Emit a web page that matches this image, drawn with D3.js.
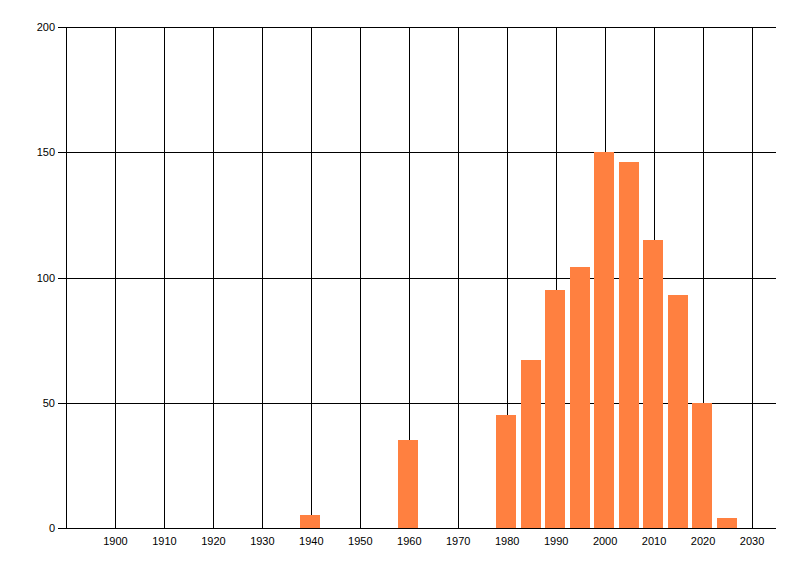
<!DOCTYPE html>
<html>
<head>
<meta charset="utf-8">
<script src="https://cdn.jsdelivr.net/npm/d3@7"></script>
<style>
  body { margin: 0; background: #fff; }
  text { font-family: "Liberation Sans", Arial, sans-serif; font-size: 11px; fill: #000; }
</style>
</head>
<body>
<div id="chart"></div>
<script>
const years = [1940, 1960, 1980, 1985, 1990, 1995, 2000, 2005, 2010, 2015, 2020, 2025];
const counts = [5, 35, 45, 67, 95, 104, 150, 146, 115, 93, 50, 4];
const xTicks = [1900, 1910, 1920, 1930, 1940, 1950, 1960, 1970, 1980, 1990, 2000, 2010, 2020, 2030];
const yTicks = [0, 50, 100, 150, 200];

const margin = {top: 27, right: 24, bottom: 48, left: 66},
      width = 800 - margin.left - margin.right,
      height = 576 - margin.top - margin.bottom;

const svg = d3.select("#chart")
              .append("svg")
              .attr("width", 800)
              .attr("height", 576)
              .append("g")
              .attr("transform", `translate(${margin.left},${margin.top})`);

const x = d3.scaleLinear().domain([1890, 2035]).range([0, width]);
const y = d3.scaleLinear().domain([0, 200]).range([height, 0]);

const data = years.map((yr, i) => ({year: yr, count: counts[i]}));
const barW = Math.round(x(1894) - x(1890));
const px = v => Math.round(v) + 0.5;

// grid
svg.selectAll(".vgrid")
   .data(xTicks)
   .enter()
   .append("line")
   .attr("x1", d => px(x(d)))
   .attr("x2", d => px(x(d)))
   .attr("y1", 0)
   .attr("y2", height)
   .attr("stroke", "#000");

svg.selectAll(".hgrid")
   .data(yTicks.filter(d => d > 0))
   .enter()
   .append("line")
   .attr("x1", 0)
   .attr("x2", width)
   .attr("y1", d => px(y(d)))
   .attr("y2", d => px(y(d)))
   .attr("stroke", "#000");

// bars
svg.selectAll(".bar")
   .data(data)
   .enter()
   .append("rect")
   .attr("class", "bar")
   .attr("x", d => Math.floor(x(d.year) - barW / 2))
   .attr("y", d => Math.round(y(d.count)))
   .attr("width", barW)
   .attr("height", d => height - Math.round(y(d.count)))
   .attr("fill", "#ff8040")
   .attr("shape-rendering", "crispEdges");

// y axis
const yAxis = svg.append("g")
   .call(d3.axisLeft(y).tickValues(yTicks).tickSize(8).tickPadding(3).tickSizeOuter(0).offset(0.5));
yAxis.selectAll(".tick").attr("transform", d => `translate(0,${px(y(d))})`);
yAxis.selectAll("text").style("font-size", "11px").style("font-family", "Liberation Sans, Arial, sans-serif");

// x axis
const xAxis = svg.append("g")
   .attr("transform", `translate(0,${height})`)
   .call(d3.axisBottom(x).tickValues(xTicks).tickFormat(d3.format("d")).tickSize(0).tickPadding(9).tickSizeOuter(0).offset(0.5));
xAxis.select(".domain").attr("d", `M-8,0.5H${width}`);
xAxis.selectAll("text").style("font-size", "11px").style("font-family", "Liberation Sans, Arial, sans-serif");
</script>
</body>
</html>
